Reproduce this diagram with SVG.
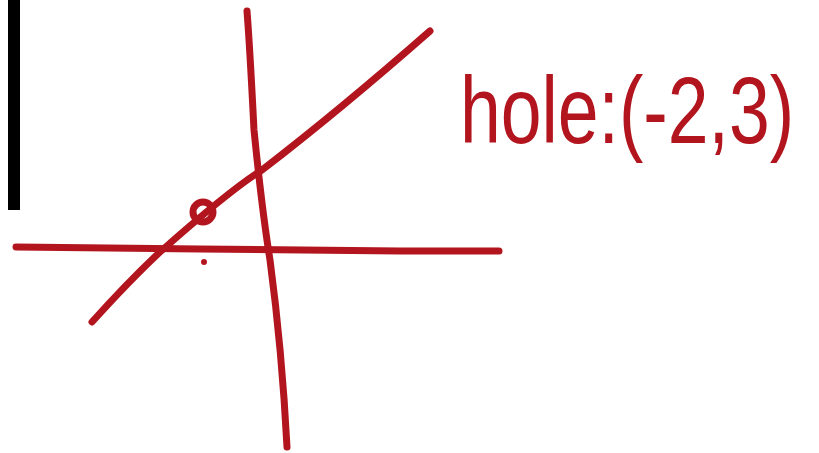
<svg xmlns="http://www.w3.org/2000/svg" width="819" height="453" viewBox="0 0 819 453">
<style>
.ink{fill:none;stroke:#b3151e;stroke-width:7;stroke-linecap:round;stroke-linejoin:round}
.lbl{fill:#b3151e;font-family:"Liberation Sans",Arial,sans-serif;font-size:94px}
</style>
<rect width="819" height="453" fill="#ffffff"/>
<g id="bar"><rect x="8" y="0" width="12" height="210" fill="#000000"/></g>
<g id="axes">
<path id="x-axis" class="ink" d="M16,247 L200,249 L400,251 L499,251"/>
<path id="y-axis" class="ink" d="M247,11 Q250,50 254,130 Q262,210 270,260 Q282,350 287,447"/>
</g>
<g id="graph">
<path id="line" class="ink" d="M92,322 Q130,280 160,252 Q230,190 262,170 Q340,110 430,31"/>
<circle id="hole" class="ink" cx="203" cy="212" r="10"/>
<circle id="dot" cx="204" cy="262" r="3" fill="#b3151e"/>
</g>
<g id="label">
<text class="lbl" transform="translate(460,143) scale(0.78,1)">hole:(-2,3)</text>
</g>
</svg>
